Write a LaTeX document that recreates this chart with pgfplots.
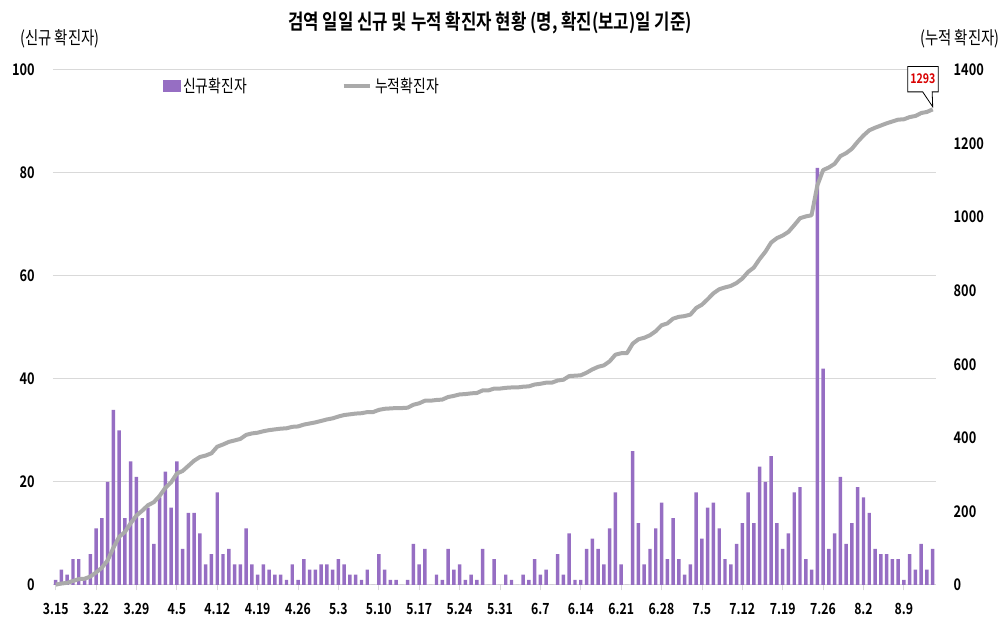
\documentclass[border=0pt]{standalone}
\usepackage{pgfplots}
\pgfplotsset{compat=1.18}
\usepackage{pgfplotstable}
\usepackage{fontspec}
\setmainfont{Noto Sans CJK KR}[FakeStretch=0.8, BoldFont={Noto Sans CJK KR Bold}]
\usetikzlibrary{shapes.callouts}
\definecolor{barpurple}{RGB}{150,110,195}
\definecolor{linegray}{RGB}{170,170,170}
\definecolor{gridgray}{RGB}{217,217,217}

\pgfplotstableread{
idx new cum
0 1 1
1 3 4
2 2 6
3 5 11
4 5 16
5 1 17
6 6 23
7 11 34
8 13 47
9 20 67
10 34 101
11 30 131
12 13 144
13 24 168
14 21 189
15 13 202
16 15 217
17 8 225
18 17 242
19 22 264
20 15 279
21 24 303
22 7 310
23 14 324
24 14 338
25 10 348
26 4 352
27 6 358
28 18 376
29 6 382
30 7 389
31 4 393
32 4 397
33 11 408
34 4 412
35 2 414
36 4 418
37 3 421
38 2 423
39 2 425
40 1 426
41 4 430
42 1 431
43 5 436
44 3 439
45 3 442
46 4 446
47 4 450
48 3 453
49 5 458
50 4 462
51 2 464
52 2 466
53 1 467
54 3 470
55 0 470
56 6 476
57 3 479
58 1 480
59 1 481
60 0 481
61 1 482
62 8 490
63 4 494
64 7 501
65 0 501
66 2 503
67 1 504
68 7 511
69 3 514
70 4 518
71 1 519
72 2 521
73 1 522
74 7 529
75 0 529
76 5 534
77 0 534
78 2 536
79 1 537
80 0 537
81 2 539
82 1 540
83 5 545
84 2 547
85 3 550
86 0 550
87 6 556
88 2 558
89 10 568
90 1 569
91 1 570
92 7 577
93 9 586
94 7 593
95 4 597
96 11 608
97 18 626
98 4 630
99 0 630
100 26 656
101 12 668
102 4 672
103 7 679
104 11 690
105 16 706
106 5 711
107 13 724
108 5 729
109 2 731
110 4 735
111 18 753
112 9 762
113 15 777
114 16 793
115 11 804
116 5 809
117 4 813
118 8 821
119 12 833
120 18 851
121 12 863
122 23 886
123 20 906
124 25 931
125 12 943
126 7 950
127 10 960
128 18 978
129 19 997
130 5 1002
131 3 1005
132 81 1086
133 42 1128
134 7 1135
135 10 1145
136 21 1166
137 8 1174
138 12 1186
139 19 1205
140 17 1222
141 14 1236
142 7 1243
143 6 1249
144 6 1255
145 5 1260
146 5 1265
147 1 1266
148 6 1272
149 3 1275
150 8 1283
151 3 1286
152 7 1293
}\datatable

\begin{document}
\begin{tikzpicture}[x=1pt,y=1pt]
\path[use as bounding box] (0,0) rectangle (753,468.75);
\begin{axis}[
  at={(39.6pt,30pt)}, anchor=south west,
  scale only axis, width=662.1pt, height=386.25pt,
  xmin=-0.5, xmax=152.5, ymin=0, ymax=100,
  ybar, bar width=0.6,
  ytick={0,20,...,100},
  xtick={0,7,...,147},
  xticklabels={3.15,3.22,3.29,4.5,4.12,4.19,4.26,5.3,5.10,5.17,5.24,5.31,6.7,6.14,6.21,6.28,7.5,7.12,7.19,7.26,8.2,8.9},
  ymajorgrids, grid style={gridgray, line width=0.75pt},
  axis x line*=bottom, axis y line*=left,
  y axis line style={draw=none},
  x axis line style={gridgray, line width=0.75pt},
  ytick style={draw=none},
  xtick style={gridgray, line width=0.6pt},
  tick align=outside, major tick length=4pt,
  /pgf/number format/assume math mode=true,
  /pgf/number format/1000 sep={},
  yticklabel style={font=\bfseries\fontsize{12}{14}\selectfont, xshift=-6pt},
  xticklabel style={font=\bfseries\fontsize{11.5}{14}\selectfont, yshift=-6pt},
  legend columns=2,
  legend style={at={(0.1248,0.969)}, anchor=west, draw=none, fill=none,
    inner sep=0pt, font=\fontsize{13}{15}\selectfont,
    /tikz/every even column/.append style={column sep=69pt}},
  legend cell align=left,
]
\addplot[fill=barpurple, draw=none,
  legend image code/.code={\fill[barpurple] (0pt,-4.5pt) rectangle (13pt,4.5pt);}]
  table[x=idx,y=new]{\datatable};
\addlegendentry{신규확진자}
\addlegendimage{legend image code/.code={\draw[linegray, line width=3pt] (0pt,0pt) -- (20pt,0pt);}}
\addlegendentry{누적확진자}
\end{axis}
\begin{axis}[
  at={(39.6pt,30pt)}, anchor=south west,
  scale only axis, width=662.1pt, height=386.25pt,
  xmin=-0.5, xmax=152.5, ymin=0, ymax=1400,
  ytick={0,200,...,1400},
  axis y line*=right, hide x axis,
  y axis line style={draw=none},
  ytick style={draw=none},
  clip=false,
  /pgf/number format/assume math mode=true,
  /pgf/number format/1000 sep={},
  yticklabel style={font=\bfseries\fontsize{12}{14}\selectfont, xshift=10pt},
]
\addplot[linegray, line width=3pt, line join=round, no marks] table[x=idx,y=cum]{\datatable};
\node[rectangle callout, draw=black, fill=white, line width=0.6pt,
  text=red!85!black, font=\bfseries\fontsize{10}{12}\selectfont,
  inner sep=2pt, minimum height=19pt, minimum width=22pt,
  callout absolute pointer={(axis cs:152,1300)}]
  at (axis cs:150.3,1375) {1293};
\end{axis}
\node[font=\bfseries\fontsize{15.7}{18}\selectfont] at (367.5,451.5) {검역 일일 신규 및 누적 확진자 현황 (명, 확진(보고)일 기준)};
\node[font=\fontsize{13.5}{15}\selectfont] at (45,440) {(신규 확진자)};
\node[font=\fontsize{13.5}{15}\selectfont] at (720,440) {(누적 확진자)};
\end{tikzpicture}
\end{document}
